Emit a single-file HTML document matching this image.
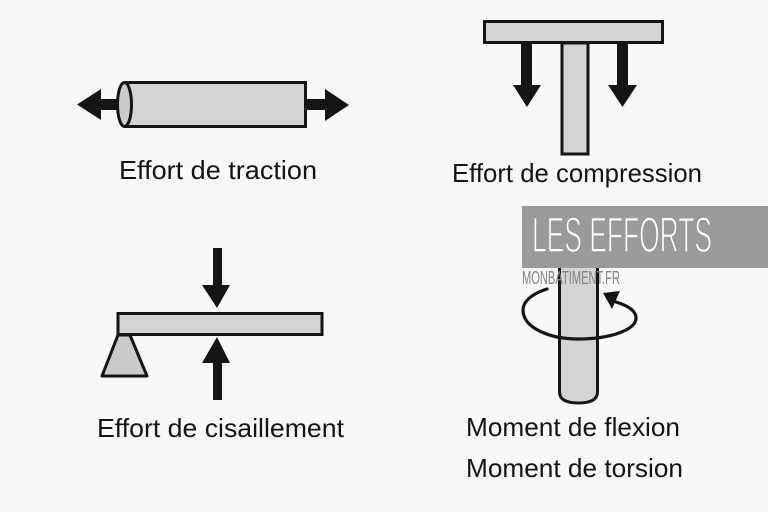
<!DOCTYPE html>
<html>
<head>
<meta charset="utf-8">
<style>
  html, body { margin: 0; padding: 0; background: #f8f8f7; }
  svg { display: block; }
  .lbl { font-family: "Liberation Sans", "DejaVu Sans", sans-serif; font-size: 26px; fill: #141414; }
</style>
</head>
<body>
<svg width="768" height="512" viewBox="0 0 768 512" xmlns="http://www.w3.org/2000/svg">
  <rect x="0" y="0" width="768" height="512" fill="#f8f8f7"/>

  <!-- ===== Traction ===== -->
  <polygon points="77,104.5 101,89 101,99 119,99 119,110 101,110 101,120" fill="#151515"/>
  <polygon points="349,105 325,89 325,99 305,99 305,110 325,110 325,121" fill="#151515"/>
  <path d="M124.5,82.5 H305.5 V126.5 H124.5" fill="#d3d4d6" stroke="#151515" stroke-width="3"/>
  <ellipse cx="124.5" cy="104.5" rx="7" ry="22" fill="#c9cacc" stroke="#151515" stroke-width="3"/>
  <text class="lbl" x="119" y="179" textLength="198" lengthAdjust="spacingAndGlyphs">Effort de traction</text>

  <!-- ===== Compression ===== -->
  <rect x="562" y="43" width="26" height="111" fill="#d3d4d6" stroke="#151515" stroke-width="3"/>
  <rect x="484.5" y="21.5" width="178" height="21" fill="#d3d4d6" stroke="#151515" stroke-width="3"/>
  <polygon points="521,43 532,43 532,85 541,85 527,107 513,85 521,85" fill="#151515"/>
  <polygon points="617,43 628,43 628,85 637,85 622.5,107 608,85 617,85" fill="#151515"/>
  <text class="lbl" x="452" y="182" textLength="250" lengthAdjust="spacingAndGlyphs">Effort de compression</text>

  <!-- ===== Cisaillement ===== -->
  <polygon points="118,335 130,335 147,376 102,376" fill="#c9cacc" stroke="#151515" stroke-width="3" stroke-linejoin="round"/>
  <rect x="118" y="313.5" width="204" height="21" fill="#d3d4d6" stroke="#151515" stroke-width="3"/>
  <polygon points="213,248 222,248 222,285 230,285 217,308 202,285 213,285" fill="#151515"/>
  <polygon points="217,337 230,363 222,363 222,400 213,400 213,363 202,363" fill="#151515"/>
  <text class="lbl" x="97" y="437" textLength="247" lengthAdjust="spacingAndGlyphs">Effort de cisaillement</text>

  <!-- ===== Torsion / flexion ===== -->
  <path d="M559.5,262 V392 Q559.5,403 578.5,403 Q597.5,403 597.5,392 V262" fill="#d3d4d6" stroke="#151515" stroke-width="3"/>
  <path d="M547,289 C531,294 523,302 523,310 C523,328 550,339 578,339 C610,339 636,330 636,318 C636,311 629,306 616,302" fill="none" stroke="#151515" stroke-width="3.2" stroke-linecap="round"/>
  <polygon points="603,293 620,291 612,309" fill="#151515"/>

  <!-- banner -->
  <rect x="522" y="206" width="246" height="62" fill="#9a9a9a"/>
  <text x="532" y="252" font-family="Liberation Sans, DejaVu Sans, sans-serif" font-size="50" fill="#ffffff" stroke="#9a9a9a" stroke-width="1.6" textLength="180" lengthAdjust="spacingAndGlyphs">LES EFFORTS</text>
  <text x="522" y="284" font-family="Liberation Sans, DejaVu Sans, sans-serif" font-size="18.5" fill="#858585" textLength="98" lengthAdjust="spacingAndGlyphs">MONBATIMENT.FR</text>

  <text class="lbl" x="466" y="436" textLength="214" lengthAdjust="spacingAndGlyphs">Moment de flexion</text>
  <text class="lbl" x="466" y="477" textLength="217" lengthAdjust="spacingAndGlyphs">Moment de torsion</text>
</svg>
</body>
</html>
